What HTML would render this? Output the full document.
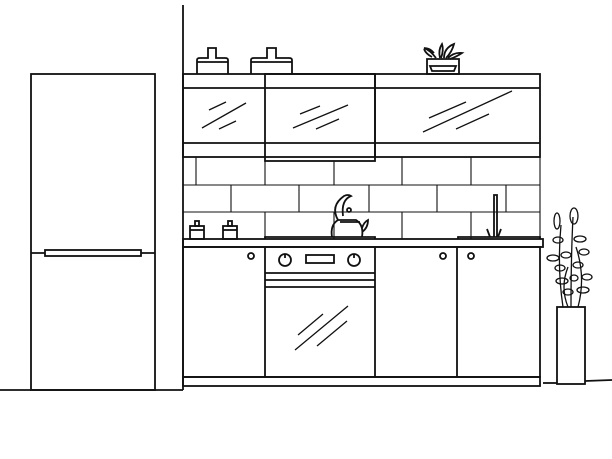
<!DOCTYPE html>
<html><head><style>html,body{margin:0;padding:0;background:#fff}svg{display:block}</style></head>
<body>
<svg width="612" height="459" viewBox="0 0 612 459" xmlns="http://www.w3.org/2000/svg" fill="none" stroke="#111" stroke-width="1.8">
<!-- wall & floor -->
<line x1="183" y1="5" x2="183" y2="390"/>
<line x1="0" y1="390" x2="183" y2="390"/>
<line x1="543" y1="383" x2="557" y2="383"/>
<line x1="585" y1="381" x2="612" y2="380"/>
<!-- fridge -->
<rect x="31" y="74" width="124" height="316"/>
<line x1="31" y1="253" x2="155" y2="253"/>
<rect x="45" y="250" width="96" height="6" fill="#fff"/>
<!-- jars -->
<path d="M197 74V60q0-2 3-2h8v-10h8v10h9q3 0 3 2v14"/>
<line x1="197" y1="62" x2="228" y2="62"/>
<path d="M251 74V60q0-2 3-2h13v-10h9v10h13q3 0 3 2v14"/>
<line x1="251" y1="62" x2="292" y2="62"/>
<!-- top plant -->
<path d="M427 74V59h32v15z"/><path d="M430 66h26l-2 5h-22z"/>
<path d="M436 58q-6-8-12-10q6 0 10 5M440 58q-2-8 2-14q2 6-1 14M444 58q0-10 10-14q-2 8-8 14M448 58q6-6 14-5q-6 4-12 6M432 57q-6-3-8-8"/>
<!-- upper cabinets -->
<rect x="183" y="74" width="357" height="83"/>
<line x1="183" y1="88" x2="540" y2="88"/>
<line x1="183" y1="143" x2="540" y2="143"/>
<line x1="375" y1="74" x2="375" y2="157"/>
<rect x="265" y="74" width="110" height="87"/>
<g stroke-width="1.3">
<path d="M209 110l17-8M202 128l44-25M219 129l17-8"/>
<path d="M300 114l20-8M293 128l55-23M316 129l23-10"/>
<path d="M429 118l37-16M423 132l89-41M456 129l33-15"/>
</g>
<!-- tiles -->
<g stroke-width="1.1">
<line x1="183" y1="185" x2="540" y2="185"/>
<line x1="183" y1="212" x2="540" y2="212"/>
<line x1="540" y1="157" x2="540" y2="239"/>
<path d="M196 157v28M265 161v24M334 161v24M402 157v28M471 157v28"/>
<path d="M231 185v27M299 185v27M369 185v27M437 185v27M506 185v27"/>
<path d="M265 212v27M334 212v27M402 212v27M471 212v27"/>
</g>
<!-- counter -->
<rect x="183" y="239" width="360" height="8"/>
<path d="M265 239v-2h110v2M458 239v-2h82v2"/>
<!-- spice jars -->
<rect x="190" y="226" width="14" height="13"/><rect x="195" y="221" width="4" height="5"/><line x1="190" y1="230" x2="204" y2="230"/>
<rect x="223" y="226" width="14" height="13"/><rect x="228" y="221" width="4" height="5"/><line x1="223" y1="230" x2="237" y2="230"/>
<!-- kettle -->
<path d="M332 237q-2-12 6-17h18q8 5 6 17M338 220q-8-14 6-24q4-2 7 0q-10 4-8 20M362 228q2-6 6-8q0 8-6 12"/>
<circle cx="349" cy="210" r="2"/><line x1="340" y1="222" x2="360" y2="222"/>
<!-- faucet -->
<path d="M494 237v-42h3v42M490 237l-3-8M498 237l3-8"/>
<!-- lower cabinets -->
<rect x="183" y="247" width="357" height="130"/>
<rect x="183" y="377" width="357" height="9"/>
<path d="M265 247v130M375 247v130M457 247v130"/>
<line x1="265" y1="273" x2="375" y2="273"/>
<line x1="265" y1="280" x2="375" y2="280"/>
<line x1="265" y1="287" x2="375" y2="287"/>
<circle cx="285" cy="260" r="6"/><line x1="285" y1="254" x2="285" y2="258"/>
<circle cx="354" cy="260" r="6"/><line x1="354" y1="254" x2="354" y2="258"/>
<rect x="306" y="255" width="28" height="8"/>
<circle cx="251" cy="256" r="3"/><circle cx="443" cy="256" r="3"/><circle cx="471" cy="256" r="3"/>
<g stroke-width="1.3"><path d="M298 335l25-21M295 350l53-44M317 346l30-25"/></g>
<!-- floor plant -->
<rect x="557" y="307" width="28" height="77"/>
<g stroke-width="1.3">
<path d="M563 307q-6-40 -2-82M571 307q0-50 2-90M578 307q8-30 -2-60M568 307q-8-20 0-40"/>
<ellipse cx="557" cy="221" rx="3" ry="8"/><ellipse cx="574" cy="216" rx="4" ry="8"/>
<ellipse cx="558" cy="240" rx="5" ry="3"/><ellipse cx="580" cy="239" rx="6" ry="3"/>
<ellipse cx="553" cy="258" rx="6" ry="3"/><ellipse cx="566" cy="255" rx="5" ry="3"/>
<ellipse cx="584" cy="252" rx="5" ry="3"/><ellipse cx="560" cy="268" rx="5" ry="3"/>
<ellipse cx="578" cy="265" rx="5" ry="3"/><ellipse cx="587" cy="277" rx="5" ry="3"/>
<ellipse cx="562" cy="281" rx="6" ry="3"/><ellipse cx="583" cy="290" rx="6" ry="3"/>
<ellipse cx="568" cy="292" rx="5" ry="3"/><ellipse cx="574" cy="278" rx="4" ry="3"/>
</g>
</svg>
</body></html>
